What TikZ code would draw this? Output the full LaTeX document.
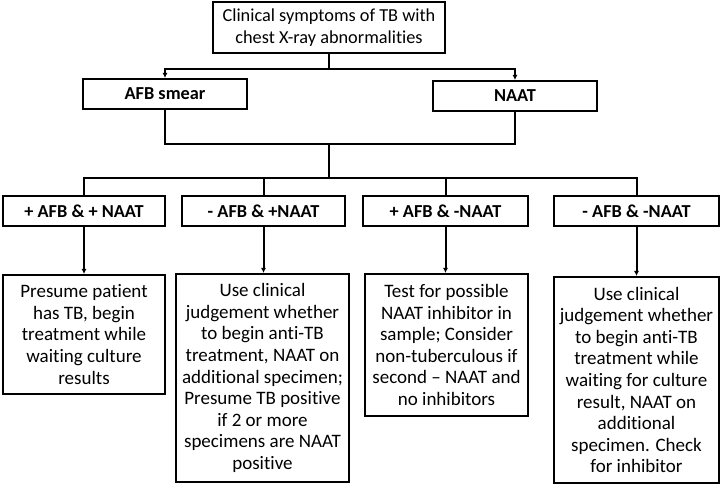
\documentclass[tikz,border=0pt]{standalone}
\usepackage{fontspec}
\setmainfont{Carlito}[Ligatures=NoCommon]
\usetikzlibrary{arrows.meta}
\tikzstyle{box}=[draw, line width=2pt, align=center, inner sep=2pt, font=\fontsize{19}{21.6}\selectfont]
\tikzstyle{test}=[box, font=\fontsize{18.3}{21.6}\selectfont\bfseries]
\tikzstyle{link}=[line width=2pt]
\tikzstyle{arr}=[line width=2pt, -{Latex[length=5pt,width=5pt]}]

\begin{document}
\begin{tikzpicture}[x=1pt, y=-1pt]
                \useasboundingbox (0,0) rectangle (720,486);
                \node[box, font=\fontsize{18.3}{21.6}\selectfont, minimum width=232pt, minimum height=51pt] (top) at (329, 27.5) {Clinical symptoms of TB with\\chest X-ray abnormalities};
                \node[test, minimum width=164pt, minimum height=30pt] (afb) at (165, 94) {AFB smear};
                \node[test, minimum width=164pt, minimum height=30pt] (naat) at (515, 96) {NAAT};
                \node[test, minimum width=162pt, minimum height=30pt] (r1) at (84, 211) {+ AFB \& + NAAT};
                \node[test, minimum width=163pt, minimum height=30pt] (r2) at (263.5, 211) {- AFB \& +NAAT};
                \node[test, minimum width=165pt, minimum height=30pt] (r3) at (445.5, 211) {+ AFB \& -NAAT};
                \node[test, minimum width=165pt, minimum height=30pt] (r4) at (636.5, 211) {- AFB \& -NAAT};
                \node[box, minimum width=162pt, minimum height=119pt] (b1) at (84, 334.5) {Presume patient\\has TB, begin\\treatment while\\waiting culture\\results};
                \node[box, minimum width=173pt, minimum height=208pt] (b2) at (262.5, 378) {Use clinical\\judgement whether\\to begin anti-TB\\treatment, NAAT on\\additional specimen;\\Presume TB positive\\if 2 or more\\specimens are NAAT\\positive};
                \node[box, minimum width=163pt, minimum height=142pt] (b3) at (446.5, 345) {Test for possible\\NAAT inhibitor in\\sample; Consider\\non-tuberculous if\\second -- NAAT and\\no inhibitors};
                \node[box, minimum width=165pt, minimum height=206pt] (b4) at (636.5, 380) {Use clinical\\judgement whether\\to begin anti-TB\\treatment while\\waiting for culture\\result, NAAT on\\additional\\specimen. Check\\for inhibitor};
                \coordinate (j1) at (329, 69);
                \coordinate (j2) at (329, 144);
                \coordinate (j3) at (329, 178);
                % clinical picture to both tests
                \draw[link] (top.south) -- (j1);
                \draw[arr] (j1) -| (afb.north);
                \draw[arr] (j1) -| (naat.north);
                % combine results
                \draw[link] (afb.south) |- (j2);
                \draw[link] (naat.south) |- (j2);
                \draw[link] (j2) -- (j3);
                \draw[link] (j3) -| (r1.north);
                \draw[link] (j3) -| (r2.north);
                \draw[link] (j3) -| (r3.north);
                \draw[link] (j3) -| (r4.north);
                % what to do
                \draw[arr] (r1.south) -- (r1.south |- b1.north);
                \draw[arr] (r2.south) -- (r2.south |- b2.north);
                \draw[arr] (r3.south) -- (r3.south |- b3.north);
                \draw[arr] (r4.south) -- (r4.south |- b4.north);
            \end{tikzpicture}
\end{document}
